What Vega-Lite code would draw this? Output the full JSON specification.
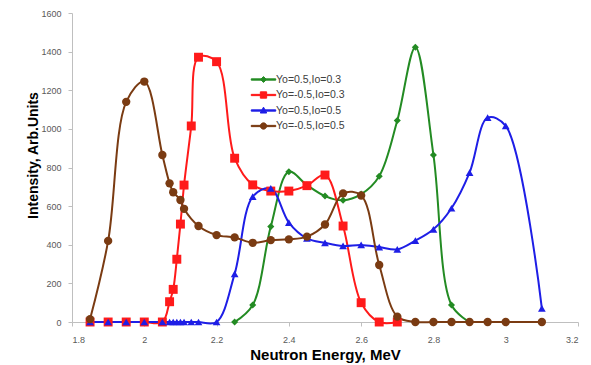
{
  "$schema": "https://vega.github.io/schema/vega-lite/v6.json",
  "width": 506,
  "height": 309,
  "autosize": {"type": "none"},
  "padding": {"left": 72, "top": 13, "right": 13, "bottom": 43},
  "background": "white",
  "config": {
    "view": {"stroke": null},
    "font": "Liberation Sans",
    "axis": {
      "grid": false,
      "domainColor": "#bfbfbf",
      "tickColor": "#bfbfbf",
      "tickSize": 4,
      "labelFontSize": 9,
      "labelColor": "#595959",
      "titleFontSize": 15,
      "titleFontWeight": "bold",
      "titleColor": "#000000"
    }
  },
  "data": {
    "values": [
      {"series": "Yo=0.5,Io=0.3", "x": 2.25, "y": 0},
      {"series": "Yo=0.5,Io=0.3", "x": 2.3, "y": 88},
      {"series": "Yo=0.5,Io=0.3", "x": 2.35, "y": 494},
      {"series": "Yo=0.5,Io=0.3", "x": 2.4, "y": 778},
      {"series": "Yo=0.5,Io=0.3", "x": 2.45, "y": 709},
      {"series": "Yo=0.5,Io=0.3", "x": 2.5, "y": 652},
      {"series": "Yo=0.5,Io=0.3", "x": 2.55, "y": 630},
      {"series": "Yo=0.5,Io=0.3", "x": 2.6, "y": 662},
      {"series": "Yo=0.5,Io=0.3", "x": 2.65, "y": 755},
      {"series": "Yo=0.5,Io=0.3", "x": 2.7, "y": 1043},
      {"series": "Yo=0.5,Io=0.3", "x": 2.75, "y": 1423},
      {"series": "Yo=0.5,Io=0.3", "x": 2.8, "y": 865},
      {"series": "Yo=0.5,Io=0.3", "x": 2.85, "y": 88},
      {"series": "Yo=0.5,Io=0.3", "x": 2.9, "y": 0},

      {"series": "Yo=-0.5,Io=0.3", "x": 1.85, "y": 0},
      {"series": "Yo=-0.5,Io=0.3", "x": 1.9, "y": 0},
      {"series": "Yo=-0.5,Io=0.3", "x": 1.95, "y": 0},
      {"series": "Yo=-0.5,Io=0.3", "x": 2.0, "y": 0},
      {"series": "Yo=-0.5,Io=0.3", "x": 2.05, "y": 0},
      {"series": "Yo=-0.5,Io=0.3", "x": 2.07, "y": 105},
      {"series": "Yo=-0.5,Io=0.3", "x": 2.08, "y": 169},
      {"series": "Yo=-0.5,Io=0.3", "x": 2.09, "y": 325},
      {"series": "Yo=-0.5,Io=0.3", "x": 2.1, "y": 507},
      {"series": "Yo=-0.5,Io=0.3", "x": 2.11, "y": 709},
      {"series": "Yo=-0.5,Io=0.3", "x": 2.13, "y": 1015},
      {"series": "Yo=-0.5,Io=0.3", "x": 2.15, "y": 1371},
      {"series": "Yo=-0.5,Io=0.3", "x": 2.2, "y": 1348},
      {"series": "Yo=-0.5,Io=0.3", "x": 2.25, "y": 848},
      {"series": "Yo=-0.5,Io=0.3", "x": 2.3, "y": 710},
      {"series": "Yo=-0.5,Io=0.3", "x": 2.35, "y": 678},
      {"series": "Yo=-0.5,Io=0.3", "x": 2.4, "y": 678},
      {"series": "Yo=-0.5,Io=0.3", "x": 2.45, "y": 706},
      {"series": "Yo=-0.5,Io=0.3", "x": 2.5, "y": 761},
      {"series": "Yo=-0.5,Io=0.3", "x": 2.55, "y": 497},
      {"series": "Yo=-0.5,Io=0.3", "x": 2.6, "y": 100},
      {"series": "Yo=-0.5,Io=0.3", "x": 2.65, "y": 0},
      {"series": "Yo=-0.5,Io=0.3", "x": 2.7, "y": 0},

      {"series": "Yo=0.5,Io=0.5", "x": 1.85, "y": 0},
      {"series": "Yo=0.5,Io=0.5", "x": 1.9, "y": 0},
      {"series": "Yo=0.5,Io=0.5", "x": 1.95, "y": 0},
      {"series": "Yo=0.5,Io=0.5", "x": 2.0, "y": 0},
      {"series": "Yo=0.5,Io=0.5", "x": 2.05, "y": 0},
      {"series": "Yo=0.5,Io=0.5", "x": 2.07, "y": 0},
      {"series": "Yo=0.5,Io=0.5", "x": 2.08, "y": 0},
      {"series": "Yo=0.5,Io=0.5", "x": 2.09, "y": 0},
      {"series": "Yo=0.5,Io=0.5", "x": 2.1, "y": 0},
      {"series": "Yo=0.5,Io=0.5", "x": 2.11, "y": 0},
      {"series": "Yo=0.5,Io=0.5", "x": 2.13, "y": 0},
      {"series": "Yo=0.5,Io=0.5", "x": 2.15, "y": 0},
      {"series": "Yo=0.5,Io=0.5", "x": 2.2, "y": 0},
      {"series": "Yo=0.5,Io=0.5", "x": 2.25, "y": 249},
      {"series": "Yo=0.5,Io=0.5", "x": 2.3, "y": 649},
      {"series": "Yo=0.5,Io=0.5", "x": 2.35, "y": 692},
      {"series": "Yo=0.5,Io=0.5", "x": 2.4, "y": 515},
      {"series": "Yo=0.5,Io=0.5", "x": 2.45, "y": 433},
      {"series": "Yo=0.5,Io=0.5", "x": 2.5, "y": 410},
      {"series": "Yo=0.5,Io=0.5", "x": 2.55, "y": 394},
      {"series": "Yo=0.5,Io=0.5", "x": 2.6, "y": 399},
      {"series": "Yo=0.5,Io=0.5", "x": 2.65, "y": 388},
      {"series": "Yo=0.5,Io=0.5", "x": 2.7, "y": 376},
      {"series": "Yo=0.5,Io=0.5", "x": 2.75, "y": 421},
      {"series": "Yo=0.5,Io=0.5", "x": 2.8, "y": 480},
      {"series": "Yo=0.5,Io=0.5", "x": 2.85, "y": 589},
      {"series": "Yo=0.5,Io=0.5", "x": 2.9, "y": 773},
      {"series": "Yo=0.5,Io=0.5", "x": 2.95, "y": 1058},
      {"series": "Yo=0.5,Io=0.5", "x": 3.0, "y": 1015},
      {"series": "Yo=0.5,Io=0.5", "x": 3.1, "y": 71},

      {"series": "Yo=-0.5,Io=0.5", "x": 1.85, "y": 15},
      {"series": "Yo=-0.5,Io=0.5", "x": 1.9, "y": 420},
      {"series": "Yo=-0.5,Io=0.5", "x": 1.95, "y": 1140},
      {"series": "Yo=-0.5,Io=0.5", "x": 2.0, "y": 1245},
      {"series": "Yo=-0.5,Io=0.5", "x": 2.05, "y": 865},
      {"series": "Yo=-0.5,Io=0.5", "x": 2.07, "y": 718},
      {"series": "Yo=-0.5,Io=0.5", "x": 2.08, "y": 672},
      {"series": "Yo=-0.5,Io=0.5", "x": 2.1, "y": 632},
      {"series": "Yo=-0.5,Io=0.5", "x": 2.11, "y": 586},
      {"series": "Yo=-0.5,Io=0.5", "x": 2.15, "y": 497},
      {"series": "Yo=-0.5,Io=0.5", "x": 2.2, "y": 450},
      {"series": "Yo=-0.5,Io=0.5", "x": 2.25, "y": 438},
      {"series": "Yo=-0.5,Io=0.5", "x": 2.3, "y": 410},
      {"series": "Yo=-0.5,Io=0.5", "x": 2.35, "y": 424},
      {"series": "Yo=-0.5,Io=0.5", "x": 2.4, "y": 428},
      {"series": "Yo=-0.5,Io=0.5", "x": 2.45, "y": 442},
      {"series": "Yo=-0.5,Io=0.5", "x": 2.5, "y": 505},
      {"series": "Yo=-0.5,Io=0.5", "x": 2.55, "y": 666},
      {"series": "Yo=-0.5,Io=0.5", "x": 2.6, "y": 655},
      {"series": "Yo=-0.5,Io=0.5", "x": 2.65, "y": 295},
      {"series": "Yo=-0.5,Io=0.5", "x": 2.7, "y": 28},
      {"series": "Yo=-0.5,Io=0.5", "x": 2.75, "y": 0},
      {"series": "Yo=-0.5,Io=0.5", "x": 2.8, "y": 0},
      {"series": "Yo=-0.5,Io=0.5", "x": 2.85, "y": 0},
      {"series": "Yo=-0.5,Io=0.5", "x": 2.9, "y": 0},
      {"series": "Yo=-0.5,Io=0.5", "x": 2.95, "y": 0},
      {"series": "Yo=-0.5,Io=0.5", "x": 3.0, "y": 0},
      {"series": "Yo=-0.5,Io=0.5", "x": 3.1, "y": 0}
    ]
  },
  "encoding": {
    "x": {
      "field": "x",
      "type": "quantitative",
      "scale": {"domain": [1.8, 3.2], "nice": false, "zero": false},
      "axis": {
        "title": "Neutron Energy, MeV",
        "values": [1.8, 2, 2.2, 2.4, 2.6, 2.8, 3, 3.2],
        "format": "~g",
        "labelPadding": 9,
        "titlePadding": 3
      }
    },
    "y": {
      "field": "y",
      "type": "quantitative",
      "scale": {"domain": [0, 1600], "nice": false},
      "axis": {
        "title": "Intensity, Arb.Units",
        "values": [0, 200, 400, 600, 800, 1000, 1200, 1400, 1600],
        "format": "d",
        "labelPadding": 7,
        "titleFontSize": 14,
        "titleX": -39,
        "titleY": 142,
        "titleAlign": "center",
        "titleBaseline": "middle"
      }
    },
    "color": {
      "field": "series",
      "type": "nominal",
      "scale": {
        "domain": ["Yo=0.5,Io=0.3", "Yo=-0.5,Io=0.3", "Yo=0.5,Io=0.5", "Yo=-0.5,Io=0.5"],
        "range": ["#238B23", "#FF1A1A", "#1E1EE6", "#7A3B12"]
      },
      "legend": {
        "orient": "none",
        "legendX": 184,
        "legendY": 59,
        "title": null,
        "padding": 0,
        "labelFontSize": 10.5,
        "labelColor": "#404040",
        "labelOffset": 5,
        "symbolSize": 196,
        "symbolStrokeWidth": 1,
        "symbolOpacity": 1,
        "rowPadding": 2.5
      }
    }
  },
  "layer": [
    {
      "mark": {"type": "line", "interpolate": "catmull-rom", "strokeWidth": 2},
      "encoding": {}
    },
    {
      "transform": [{"filter": "datum.series === 'Yo=0.5,Io=0.3'"}],
      "mark": {"type": "point", "filled": true, "opacity": 1, "shape": "diamond", "size": 50},
      "encoding": {}
    },
    {
      "transform": [{"filter": "datum.series === 'Yo=-0.5,Io=0.3'"}],
      "mark": {"type": "point", "filled": true, "opacity": 1, "shape": "square", "size": 80},
      "encoding": {}
    },
    {
      "transform": [{"filter": "datum.series === 'Yo=0.5,Io=0.5'"}],
      "mark": {"type": "point", "filled": true, "opacity": 1, "shape": "triangle-up", "size": 60},
      "encoding": {}
    },
    {
      "transform": [{"filter": "datum.series === 'Yo=-0.5,Io=0.5'"}],
      "mark": {"type": "point", "filled": true, "opacity": 1, "shape": "circle", "size": 70},
      "encoding": {}
    },
    {
      "mark": {"type": "point", "filled": true, "opacity": 0},
      "encoding": {
        "shape": {
          "field": "series",
          "type": "nominal",
          "scale": {
            "domain": ["Yo=0.5,Io=0.3", "Yo=-0.5,Io=0.3", "Yo=0.5,Io=0.5", "Yo=-0.5,Io=0.5"],
            "range": [
              "M-1.75,-0.09H1.75V0.09H-1.75ZM0,-0.42L0.42,0L0,0.42L-0.42,0Z",
              "M-1.75,-0.09H1.75V0.09H-1.75ZM-0.45,-0.45H0.45V0.45H-0.45Z",
              "M-1.75,-0.09H1.75V0.09H-1.75ZM0,-0.48L0.46,0.36L-0.46,0.36Z",
              "M-1.75,-0.09H1.75V0.09H-1.75ZM0.45,0A0.45,0.45,0,1,1,-0.45,0A0.45,0.45,0,1,1,0.45,0Z"
            ]
          },
          "legend": null
        }
      }
    }
  ]
}
